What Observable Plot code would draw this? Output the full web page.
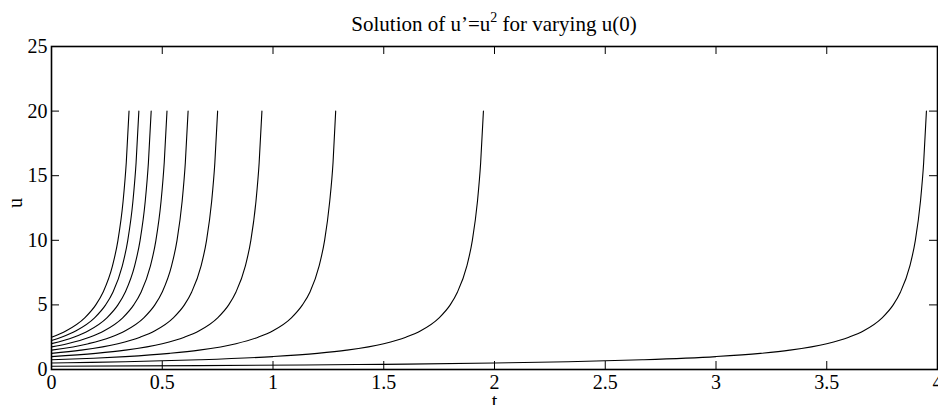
<!DOCTYPE html>
<html><head><meta charset="utf-8">
<script src="https://cdn.jsdelivr.net/npm/d3@7"></script>
<script src="https://cdn.jsdelivr.net/npm/@observablehq/plot@0.6"></script>
<style>
html,body{margin:0;padding:0;background:#fff;}
#wrap{position:relative;width:938px;height:405px;overflow:hidden;background:#fff;}
#title{position:absolute;left:51px;width:886px;top:14px;text-align:center;font-family:"Liberation Serif",serif;font-size:21px;line-height:21px;color:#000;white-space:nowrap;}
#title sup{font-size:14px;vertical-align:baseline;position:relative;top:-9px;}
</style>
</head><body>
<div id="wrap"><div id="title">Solution of u’=u<sup>2</sup> for varying u(0)</div></div>
<script>
// initial values u(0) of each solution curve
const initialValues = [0.25, 0.5, 0.75, 1, 1.25, 1.5, 1.75, 2, 2.25, 2.5];
// points [t, u] (curves stop at u = 20)
const curve025 = [[0,0.25],[0.667,0.3],[1.143,0.35],[1.5,0.4],[2.0,0.5],[2.333,0.6],[2.667,0.75],[3.0,1],[3.2,1.25],[3.333,1.5],[3.5,2],[3.6,2.5],[3.667,3],[3.75,4],[3.8,5],[3.833,6],[3.875,8],[3.9,10],[3.923,13],[3.9375,16],[3.95,20]];
const curve050 = [[0,0.5],[0.182,0.55],[0.333,0.6],[0.667,0.75],[1.0,1],[1.2,1.25],[1.333,1.5],[1.5,2],[1.6,2.5],[1.667,3],[1.75,4],[1.8,5],[1.833,6],[1.875,8],[1.9,10],[1.923,13],[1.9375,16],[1.95,20]];
const curve075 = [[0,0.75],[0.19,0.875],[0.333,1],[0.533,1.25],[0.667,1.5],[0.833,2],[0.933,2.5],[1.0,3],[1.083,4],[1.133,5],[1.167,6],[1.208,8],[1.233,10],[1.256,13],[1.271,16],[1.283,20]];
const curve100 = [[0,1],[0.2,1.25],[0.333,1.5],[0.5,2],[0.6,2.5],[0.667,3],[0.75,4],[0.8,5],[0.833,6],[0.875,8],[0.9,10],[0.923,13],[0.9375,16],[0.95,20]];
const curve125 = [[0,1.25],[0.133,1.5],[0.3,2],[0.4,2.5],[0.467,3],[0.55,4],[0.6,5],[0.633,6],[0.675,8],[0.7,10],[0.723,13],[0.7375,16],[0.75,20]];
const curve150 = [[0,1.5],[0.1667,2],[0.2667,2.5],[0.3333,3],[0.4167,4],[0.4667,5],[0.5,6],[0.5417,8],[0.5667,10],[0.5897,13],[0.6042,16],[0.6167,20]];
const curve175 = [[0,1.75],[0.0714,2],[0.1714,2.5],[0.2381,3],[0.3214,4],[0.3714,5],[0.4048,6],[0.4464,8],[0.4714,10],[0.4945,13],[0.5089,16],[0.5214,20]];
const curve200 = [[0,2],[0.1,2.5],[0.1667,3],[0.25,4],[0.3,5],[0.3333,6],[0.375,8],[0.4,10],[0.4231,13],[0.4375,16],[0.45,20]];
const curve225 = [[0,2.25],[0.0444,2.5],[0.1111,3],[0.1944,4],[0.2444,5],[0.2778,6],[0.3194,8],[0.3444,10],[0.3675,13],[0.3819,16],[0.3944,20]];
const curve250 = [[0,2.5],[0.0667,3],[0.15,4],[0.2,5],[0.2333,6],[0.275,8],[0.3,10],[0.3231,13],[0.3375,16],[0.35,20]];
const xTicks = [0, 0.5, 1, 1.5, 2, 2.5, 3, 3.5, 4];
const yTicks = [0, 5, 10, 15, 20, 25];
const xLabel = "t";
const yLabel = "u";

const curves = [curve025, curve050, curve075, curve100, curve125, curve150, curve175, curve200, curve225, curve250];
const rows = curves.flatMap((c, i) => c.map(([t, u]) => ({t, u, u0: initialValues[i]})));

const W = 938, H = 405, mL = 51, mR = 1, mT = 46, mB = 36, tick = 8;
const fw = W - mL - mR, fh = H - mT - mB;

const chart = Plot.plot({
  width: W, height: H,
  marginLeft: mL, marginRight: mR, marginTop: mT, marginBottom: mB,
  style: {fontFamily: "'Liberation Serif', serif", fontSize: "20px", color: "#000", background: "transparent", overflow: "visible"},
  x: {domain: [0, 4], label: null},
  y: {domain: [0, 25], label: null},
  marks: [
    Plot.line(rows, {x: "t", y: "u", z: "u0", stroke: "#000", strokeWidth: 1.1, curve: "monotone-x"}),
    Plot.ruleX(xTicks, {x: d => d, insetTop: fh - tick, stroke: "#000", strokeWidth: 1}),
    Plot.ruleX(xTicks, {x: d => d, insetBottom: fh - tick, stroke: "#000", strokeWidth: 1}),
    Plot.ruleY(yTicks, {y: d => d, insetRight: fw - tick, stroke: "#000", strokeWidth: 1}),
    Plot.ruleY(yTicks, {y: d => d, insetLeft: fw - tick, stroke: "#000", strokeWidth: 1}),
    Plot.frame({stroke: "#000", strokeWidth: 1.6}),
    Plot.axisX(xTicks, {tickSize: 0, tickPadding: 5, tickFormat: d => String(d), label: null, fill: "#000", fontSize: 20}),
    Plot.axisY(yTicks, {tickSize: 0, tickPadding: 4, tickFormat: d => String(d), label: null, fill: "#000", fontSize: 20}),
    Plot.text([xLabel], {frameAnchor: "bottom", dy: 38, fill: "#000", fontSize: 20}),
    Plot.text([yLabel], {frameAnchor: "left", dx: -36, rotate: -90, fill: "#000", fontSize: 20})
  ]
});
document.getElementById("wrap").prepend(chart);
</script>
</body></html>
